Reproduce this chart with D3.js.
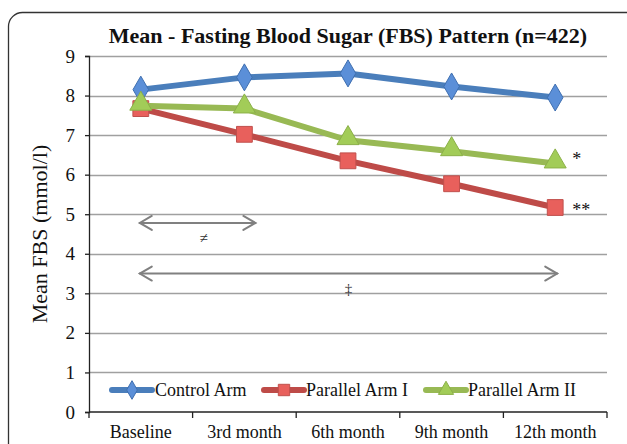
<!DOCTYPE html>
<html>
<head>
<meta charset="utf-8">
<script src="https://cdn.jsdelivr.net/npm/d3@7"></script>
<style>
    body { margin: 0; background: #fff; }
    svg { display: block; }
    .fbs-tick text { font-family: "Liberation Serif", "Times New Roman", serif; }
</style>
</head>
<body>
<svg width="627" height="444"></svg>
<script>
// Chart values
var categories = ["Baseline", "3rd month", "6th month", "9th month", "12th month"];
var seriesNames = ["Control Arm", "Parallel Arm I", "Parallel Arm II"];
var controlArm = [8.15, 8.46, 8.56, 8.23, 7.95];
var parallelArmI = [7.67, 7.02, 6.35, 5.77, 5.17];
var parallelArmII = [7.74, 7.67, 6.87, 6.59, 6.28];
var yTicks = [0, 1, 2, 3, 4, 5, 6, 7, 8, 9];

var chart = function() {
    var chart = {};
    chart.W = 627;
    chart.H = 444;
    chart.margin = { left: 89, right: 20, top: 56, bottom: 32 };
    chart.colors = {
        line: ["#4a7ebb", "#be4b48", "#98b954"],
        marker: ["#5b8fd8", "#e8605c", "#a2cc58"],
        markerStroke: ["#3f6fb0", "#c0504d", "#8bb048"]
    };
    chart.shapes = [d3.symbolDiamond, d3.symbolSquare, d3.symbolTriangle];

    var svg = d3.select("svg");
    var serif = "'Liberation Serif', 'Times New Roman', serif";
    var x, y;

    chart.init = function() {
        drawFrame();
        createScales();
        drawGrid();
        drawAxes();
        drawSeries();
        drawAnnotations();
        drawLegend();
        drawTitles();
    };

    function drawFrame() {
        svg.append("rect")
            .attr("x", 8.5)
            .attr("y", 12.5)
            .attr("width", 640)
            .attr("height", 460)
            .attr("rx", 14)
            .attr("fill", "none")
            .attr("stroke", "#333")
            .attr("stroke-width", 1.3);
    }

    function createScales() {
        var m = chart.margin;
        x = d3.scaleBand()
            .domain(categories)
            .range([m.left, chart.W - m.right]);
        y = d3.scaleLinear()
            .domain([0, 9])
            .range([chart.H - m.bottom, m.top]);
    }

    function drawGrid() {
        svg.append("g")
            .selectAll("line")
            .data(yTicks.slice(1))
            .join("line")
            .attr("x1", x.range()[0])
            .attr("x2", x.range()[1])
            .attr("y1", function(d) { return Math.round(y(d)) + 0.5; })
            .attr("y2", function(d) { return Math.round(y(d)) + 0.5; })
            .attr("stroke", "#a0a0a0")
            .attr("stroke-width", 1.6);
    }

    function drawAxes() {
        var yAxis = svg.append("g")
            .attr("class", "fbs-tick")
            .attr("transform", "translate(" + x.range()[0] + ",0)")
            .call(d3.axisLeft(y).tickValues(yTicks).tickSize(4).tickPadding(10));
        yAxis.select(".domain").attr("stroke", "#222").attr("stroke-width", 1.3);
        yAxis.selectAll(".tick line").attr("stroke", "#222").attr("stroke-width", 1.3);
        yAxis.selectAll(".tick text").attr("font-size", 19).attr("fill", "#111");

        // x axis: ticks sit on band boundaries, labels centred in bands
        var xg = svg.append("g")
            .attr("transform", "translate(0," + y(0) + ")");
        xg.append("line")
            .attr("x1", x.range()[0])
            .attr("x2", x.range()[1])
            .attr("stroke", "#222")
            .attr("stroke-width", 1.3);
        xg.selectAll("line.tk")
            .data(categories.concat([null]))
            .join("line")
            .attr("class", "tk")
            .attr("x1", function(d, i) { return x.range()[0] + i * x.bandwidth(); })
            .attr("x2", function(d, i) { return x.range()[0] + i * x.bandwidth(); })
            .attr("y1", 0)
            .attr("y2", 6)
            .attr("stroke", "#222")
            .attr("stroke-width", 1.3);
        xg.selectAll("text")
            .data(categories)
            .join("text")
            .attr("x", function(d) { return x(d) + x.bandwidth() / 2; })
            .attr("y", 26)
            .attr("text-anchor", "middle")
            .attr("font-family", serif)
            .attr("font-size", 18)
            .attr("fill", "#111")
            .text(function(d) { return d; });
    }

    function cx(i) {
        return x(categories[i]) + x.bandwidth() / 2;
    }

    function drawSeries() {
        var all = [controlArm, parallelArmI, parallelArmII];
        var line = d3.line()
            .x(function(d, i) { return cx(i); })
            .y(function(d) { return y(d); });

        all.forEach(function(values, s) {
            var g = svg.append("g");
            g.append("path")
                .datum(values)
                .attr("d", line)
                .attr("fill", "none")
                .attr("stroke", chart.colors.line[s])
                .attr("stroke-width", 6)
                .attr("stroke-linejoin", "round");
            g.selectAll("path.mk")
                .data(values)
                .join("path")
                .attr("class", "mk")
                .attr("transform", function(d, i) {
                    var dy = s === 2 ? -2 : 0;
                    return "translate(" + cx(i) + "," + (y(d) + dy) + ")";
                })
                .attr("d", d3.symbol().type(chart.shapes[s]).size(s === 1 ? 250 : 210))
                .attr("fill", chart.colors.marker[s])
                .attr("stroke", chart.colors.markerStroke[s])
                .attr("stroke-width", 1);
        });
    }

    function doubleArrow(x1, x2, yy, label, ly) {
        var g = svg.append("g")
            .attr("stroke", "#808080")
            .attr("stroke-width", 2)
            .attr("fill", "none")
            .attr("stroke-linecap", "round");
        g.append("line").attr("x1", x1).attr("x2", x2).attr("y1", yy).attr("y2", yy);
        g.append("path").attr("d", "M" + (x1 + 12) + "," + (yy - 7) + "L" + x1 + "," + yy + "L" + (x1 + 12) + "," + (yy + 7));
        g.append("path").attr("d", "M" + (x2 - 12) + "," + (yy - 7) + "L" + x2 + "," + yy + "L" + (x2 - 12) + "," + (yy + 7));
        svg.append("text")
            .attr("x", (x1 + x2) / 2 + label.dx)
            .attr("y", ly)
            .attr("text-anchor", "middle")
            .attr("font-family", serif)
            .attr("font-size", 15)
            .attr("fill", "#333")
            .text(label.text);
    }

    function drawAnnotations() {
        doubleArrow(cx(0) - 1, cx(1) + 11, y(4.78), { text: "≠", dx: 6 }, y(4.78) + 20);
        doubleArrow(cx(0) - 1, cx(4) + 2, y(3.5), { text: "‡", dx: 0 }, y(3.5) + 20);

        svg.append("text")
            .attr("x", cx(4) + 17)
            .attr("y", y(6.28) + 1)
            .attr("font-family", serif)
            .attr("font-size", 18)
            .attr("fill", "#111")
            .text("*");
        svg.append("text")
            .attr("x", cx(4) + 17)
            .attr("y", y(5.17) + 9)
            .attr("font-family", serif)
            .attr("font-size", 18)
            .attr("fill", "#111")
            .text("**");
    }

    function drawLegend() {
        var ly = 390;
        var items = [
            { lx: 112, tx: 155 },
            { lx: 264, tx: 306 },
            { lx: 426, tx: 468 }
        ];
        seriesNames.forEach(function(name, s) {
            var it = items[s];
            svg.append("line")
                .attr("x1", it.lx)
                .attr("x2", it.lx + 40)
                .attr("y1", ly)
                .attr("y2", ly)
                .attr("stroke", chart.colors.line[s])
                .attr("stroke-width", 6)
                .attr("stroke-linecap", "round");
            svg.append("path")
                .attr("transform", "translate(" + (it.lx + 20) + "," + ly + ")")
                .attr("d", d3.symbol().type(chart.shapes[s]).size(s === 1 ? 130 : 100))
                .attr("fill", chart.colors.marker[s])
                .attr("stroke", chart.colors.markerStroke[s])
                .attr("stroke-width", 1);
            svg.append("text")
                .attr("x", it.tx)
                .attr("y", ly + 6)
                .attr("font-family", serif)
                .attr("font-size", 18)
                .attr("fill", "#111")
                .text(name);
        });
    }

    function drawTitles() {
        svg.append("text")
            .attr("x", 348)
            .attr("y", 43)
            .attr("text-anchor", "middle")
            .attr("font-family", serif)
            .attr("font-weight", "bold")
            .attr("font-size", 22)
            .attr("fill", "#111")
            .text("Mean - Fasting Blood Sugar (FBS) Pattern (n=422)");

        svg.append("text")
            .attr("transform", "translate(47," + y(4.5) + ") rotate(-90)")
            .attr("text-anchor", "middle")
            .attr("font-family", serif)
            .attr("font-size", 22)
            .attr("fill", "#111")
            .text("Mean FBS (mmol/l)");
    }

    return chart;
}();

chart.init();
</script>
</body>
</html>
